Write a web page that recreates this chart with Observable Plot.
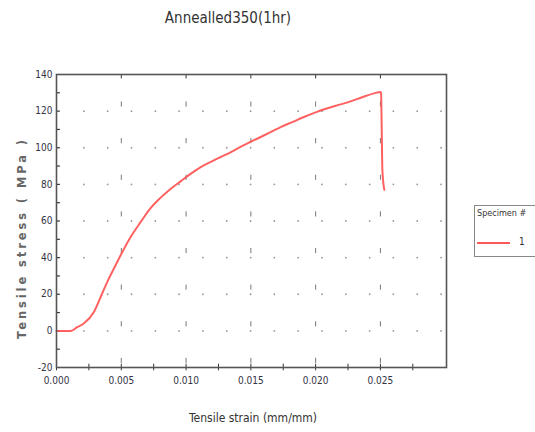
<!DOCTYPE html>
<html>
<head>
<meta charset="utf-8">
<script src="https://cdn.jsdelivr.net/npm/d3@7"></script>
<script src="https://cdn.jsdelivr.net/npm/@observablehq/plot@0.6"></script>
<style>
  body { margin: 0; background: #fff; }
  #wrap { position: relative; width: 535px; height: 432px; overflow: hidden; }
  .cond { font-family: "DejaVu Sans Condensed", "Liberation Sans Narrow", "DejaVu Sans", sans-serif; font-stretch: condensed; }
  #title { position: absolute; left: 0; width: 456px; top: 9px; text-align: center; font-size: 15px; color: #333; }
  #legend { position: absolute; left: 474px; top: 205px; width: 80px; height: 52px; border: 1px solid #888; box-sizing: border-box; }
  #legend .hd { position: absolute; left: 2px; top: 2px; font-size: 9px; color: #333; white-space: nowrap; }
  #legend .sw { position: absolute; left: 2px; top: 36px; width: 33px; height: 2px; background: #ff5a5a; }
  #legend .lb { position: absolute; left: 44px; top: 30px; font-size: 10px; color: #333; }
</style>
</head>
<body>
<div id="wrap">
  <div id="title" class="cond">Annealled350(1hr)</div>
  <div id="legend" class="cond"><div class="hd">Specimen #</div><div class="sw"></div><div class="lb">1</div></div>
</div>
<script>
// Curve data (Specimen 1)
const strain = [0, 0.0011, 0.0016, 0.0021, 0.0029, 0.0035, 0.0040, 0.0045, 0.0050, 0.0057, 0.0065, 0.0072, 0.0080, 0.0088, 0.0096, 0.0104, 0.0111, 0.0120, 0.0127, 0.0135, 0.0142, 0.0150, 0.0158, 0.0166, 0.0173, 0.0182, 0.0190, 0.0201, 0.0215, 0.0227, 0.0236, 0.0245, 0.0250, 0.02505, 0.0251, 0.02515, 0.0253];
const stress = [0, 0, 2, 4, 10.5, 20, 28, 35, 42, 51, 59.5, 66.5, 72.5, 77.5, 81.8, 86, 89.3, 92.6, 95, 97.8, 100.5, 103.3, 106, 108.8, 111.3, 114, 116.5, 119.6, 122.8, 125.3, 127.6, 129.7, 130.5, 130, 110, 88, 77];

// Axis ticks
const xMajor = [0, 0.005, 0.010, 0.015, 0.020, 0.025];
const xMinor = [0, 0.0025, 0.005, 0.0075, 0.010, 0.0125, 0.015, 0.0175, 0.020, 0.0225, 0.025, 0.0275];
const yMajor = [-20, 0, 20, 40, 60, 80, 100, 120, 140];
const yMinor = [-10, 0, 10, 20, 30, 40, 50, 60, 70, 80, 90, 100, 110, 120, 130];

// Grid dot positions
const gridDotX = [0.00211, 0.00395, 0.00579, 0.00763, 0.00946, 0.0113, 0.01314, 0.01498, 0.01681, 0.01865, 0.02049, 0.02233, 0.02417, 0.026, 0.02784, 0.02968];
const gridDotY = [0, 20, 40, 60, 80, 100, 120];
const gridDashY = [-20, 0, 20, 40, 60, 80, 100, 120];

const curve = strain.map((s, i) => ({strain: s, stress: stress[i]}));
const dots = gridDotX.flatMap(x => gridDotY.map(y => ({x, y})));
const dashes = xMajor.slice(1).flatMap(x => gridDashY.map(y => ({x, y})));

const font = '"DejaVu Sans Condensed", "Liberation Sans Narrow", "DejaVu Sans", sans-serif';

const plot = Plot.plot({
  width: 535,
  height: 432,
  marginLeft: 56,
  marginRight: 89,
  marginTop: 74,
  marginBottom: 65,
  style: {fontFamily: font, fontSize: "10px", color: "#334", background: "transparent"},
  x: {domain: [0, 0.0301]},
  y: {domain: [-20, 140]},
  marks: [
    Plot.dot(dots, {x: "x", y: "y", r: 0.9, fill: "#999", stroke: "none"}),
    Plot.ruleX(dashes, {x: "x", y1: d => d.y + 2.2, y2: d => d.y + 5, stroke: "#777", strokeWidth: 1}),
    Plot.axisX({ticks: xMajor, tickFormat: d3.format(".3f"), tickSize: 0, tickPadding: 9, label: null, fill: "#334"}),
    Plot.axisY({ticks: yMajor, tickFormat: d => String(d), tickSize: 0, tickPadding: 4, label: null, fill: "#334"}),
    Plot.ruleX(xMinor, {y1: -21.8, y2: -18.2, stroke: "#333", strokeWidth: 1}),
    Plot.ruleX(xMajor.slice(1), {y1: 140, y2: 137.6, stroke: "#333", strokeWidth: 1}),
    Plot.ruleY(yMinor, {x1: 0, x2: 0.0003, stroke: "#333", strokeWidth: 1.2}),
    Plot.line(curve, {x: "strain", y: "stress", stroke: "#ff5050", strokeWidth: 2, strokeOpacity: 0.9, curve: "monotone-x"}),
    Plot.frame({stroke: "#555", strokeWidth: 1.6})
  ]
});

const svg = d3.select(plot);
svg.style("position", "absolute").style("left", "0px").style("top", "0px");
svg.append("text")
  .attr("x", 253).attr("y", 422)
  .attr("text-anchor", "middle")
  .style("font-family", font).style("font-size", "12px").attr("fill", "#333")
  .text("Tensile strain (mm/mm)");
svg.append("text")
  .attr("transform", "translate(26,238) rotate(-90)")
  .attr("text-anchor", "middle")
  .style("font-family", '"DejaVu Sans", sans-serif').style("font-size", "11.5px").style("font-weight", "bold")
  .style("letter-spacing", "2.9px").attr("fill", "#666")
  .text("Tensile stress ( MPa )");

document.getElementById("wrap").prepend(plot);
</script>
</body>
</html>
